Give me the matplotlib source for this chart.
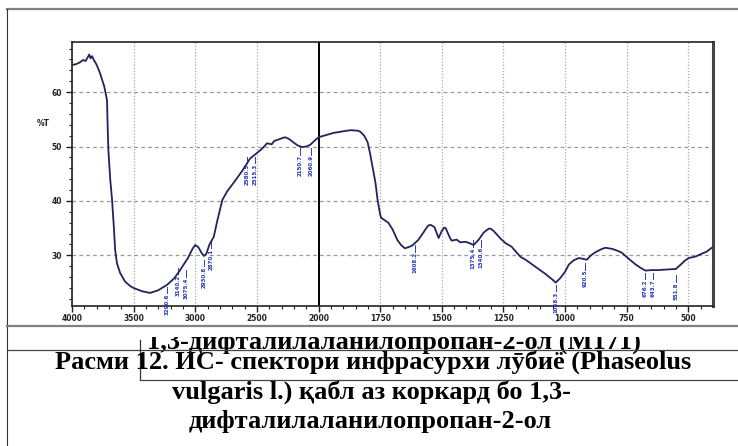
import numpy as np
import matplotlib
matplotlib.use("Agg")
import matplotlib.pyplot as plt
from matplotlib.lines import Line2D
from matplotlib.patches import Rectangle
from matplotlib.ticker import FixedLocator, MultipleLocator
from matplotlib.transforms import blended_transform_factory

# ---------------- data ----------------
wavenumber = [4000, 3970, 3940, 3910, 3890, 3875, 3860, 3850, 3838, 3820, 3800, 3773, 3738,
              3716, 3710, 3705, 3690, 3675, 3660, 3650, 3635, 3610, 3570, 3530, 3500, 3430,
              3366, 3300, 3228, 3170, 3123, 3060, 3020, 3000, 2975, 2950, 2930, 2910, 2885,
              2850, 2820, 2780, 2740, 2690, 2620, 2555, 2500, 2458, 2417, 2380, 2360, 2336,
              2300, 2271, 2240, 2206, 2170, 2133, 2100, 2068, 2035, 2000, 1970, 1939, 1900,
              1870, 1840, 1830, 1815, 1801, 1790, 1780, 1769, 1760, 1750, 1746, 1730, 1717,
              1700, 1680, 1665, 1650, 1636, 1620, 1596, 1570, 1555, 1545, 1530, 1520, 1513,
              1500, 1490, 1484, 1470, 1460, 1440, 1425, 1403, 1385, 1371, 1350, 1330, 1310,
              1302, 1290, 1260, 1240, 1217, 1200, 1180, 1160, 1120, 1080, 1050, 1038, 1020,
              1000, 985, 965, 945, 930, 912, 895, 876, 850, 836, 810, 790, 770, 740, 713,
              690, 673, 650, 620, 590, 551, 531, 515, 499, 470, 446, 425, 405, 400]
transmittance = [65.0, 65.1, 65.4, 65.9, 65.7, 66.3, 66.9, 66.2, 66.6, 65.8, 65.0, 63.5, 61.0,
                 58.5, 53.0, 49.4, 44.0, 40.2, 35.0, 31.0, 28.5, 26.8, 25.2, 24.4, 24.0, 23.4,
                 23.1, 23.6, 24.6, 25.8, 27.3, 29.5, 31.3, 31.9, 31.5, 30.5, 29.9, 30.3, 32.0,
                 33.4, 36.5, 40.2, 41.8, 43.3, 45.5, 47.8, 48.8, 49.6, 50.6, 50.4, 51.0, 51.2,
                 51.5, 51.7, 51.4, 50.8, 50.2, 49.9, 50.0, 50.3, 51.0, 51.7, 52.1, 52.5, 52.8,
                 53.0, 52.9, 52.7, 52.0, 50.8, 48.5, 46.0, 43.3, 40.0, 37.5, 36.9, 36.4, 36.0,
                 34.8, 32.8, 31.9, 31.3, 31.5, 31.8, 32.8, 34.5, 35.5, 35.6, 35.2, 34.0, 33.2,
                 34.5, 35.1, 35.0, 33.5, 32.7, 32.9, 32.4, 32.5, 32.2, 31.9, 32.9, 34.2, 34.9,
                 34.9, 34.5, 33.0, 32.2, 31.6, 30.7, 29.7, 29.2, 27.9, 26.6, 25.5, 25.0, 25.8,
                 27.0, 28.3, 29.1, 29.5, 29.4, 29.2, 30.0, 30.6, 31.2, 31.4, 31.2, 30.9, 30.5,
                 29.3, 28.3, 27.6, 27.2, 27.3, 27.3, 27.4, 27.5, 28.3, 29.0, 29.5, 29.8, 30.3,
                 30.7, 31.4, 31.5]

peak_wn = [3228, 3140, 3075, 2930, 2870, 2580, 2515, 2150, 2060,
           1608, 1375, 1340, 1038, 920, 676, 643, 551]
peak_top = [24.2, 27.7, 27.3, 29.2, 32.5, 48.1, 48.1, 49.7, 49.7,
            31.9, 32.8, 32.8, 24.6, 28.6, 26.8, 26.8, 26.4]
peak_text = ["3290.6", "3140.2", "3075.4", "2930.8", "2870.1", "2580.5", "2515.3", "2150.7",
             "2060.9", "1608.2", "1375.4", "1340.6", "1038.3", "920.5", "676.2", "643.7", "551.8"]

x_ticks = [4000, 3500, 3000, 2500, 2000, 1750, 1500, 1250, 1000, 750, 500]
y_ticks = [30, 40, 50, 60]
y_label = "%T"
y_label_pos = 54.3

caption_top = "1,3-дифталилаланилопропан-2-ол (М171)"
caption_1 = "Расми 12. ИС- спектори инфрасурхи лӯбиё (Phaseolus"
caption_2 = "vulgaris l.) қабл аз коркард бо 1,3-"
caption_3 = "дифталилаланилопропан-2-ол"

# ---------------- figure ----------------
W, H = 738, 446
fig = plt.figure(figsize=(W / 100, H / 100), dpi=100)

def fx(px):
    return px / W

def fy(py):
    return 1 - py / H

ax = fig.add_axes([fx(72), fy(306), fx(713) - fx(72), fy(42) - fy(306)])

def fwd(x):
    x = np.asarray(x, dtype=float)
    return np.where(x >= 2000, x, 2 * x - 2000)

def inv(t):
    t = np.asarray(t, dtype=float)
    return np.where(t >= 2000, t, (t + 2000) / 2)

ax.set_xscale("function", functions=(fwd, inv))
ax.set_xlim(4000, 400)
ax.set_ylim(20.7, 69.2)

ax.plot(wavenumber, transmittance, color="#23235e", lw=1.3, zorder=5)

# grid
for xv in x_ticks:
    if xv == 2000:
        ax.axvline(xv, color="black", lw=1.4, zorder=2)
    else:
        ax.axvline(xv, color="#a8a8a8", lw=0.9, ls=(0, (1, 1.5)), zorder=1)
for yv in y_ticks:
    ax.axhline(yv, color="#9a9a9a", lw=0.9, ls=(0, (3, 2.5)), zorder=1)

ax.xaxis.set_major_locator(FixedLocator(x_ticks))
ax.xaxis.set_minor_locator(FixedLocator(list(range(4000, 2000, -100)) + list(range(2000, 400, -50))))
ax.set_xticklabels([str(v) for v in x_ticks])
ax.yaxis.set_major_locator(FixedLocator(y_ticks))
ax.yaxis.set_minor_locator(MultipleLocator(2))
ax.set_yticklabels([str(v) for v in y_ticks])

ax.tick_params(axis="both", which="major", direction="out", length=4, width=1.0,
               labelsize=5.5, pad=1.5, colors="#222222")
ax.tick_params(axis="y", which="major", pad=3)
ax.tick_params(axis="both", which="minor", direction="out", length=2.5, width=0.8, colors="#222222")
for lab in ax.get_xticklabels() + ax.get_yticklabels():
    lab.set_fontweight("bold")

ax.text(-0.035, y_label_pos, y_label, transform=blended_transform_factory(ax.transAxes, ax.transData),
        fontsize=5.5, fontweight="bold", ha="right", va="center", color="#222222")

for sp in ["left", "bottom", "top"]:
    ax.spines[sp].set_linewidth(1.2)
    ax.spines[sp].set_color("#222222")
ax.spines["right"].set_linewidth(2.2)
ax.spines["right"].set_color("#444444")

# peak labels
for w, top, s in zip(peak_wn, peak_top, peak_text):
    ax.plot([w, w], [top, top - 1.2], color="#3040b0", lw=0.7, zorder=4)
    ax.text(w, top - 1.3, s, rotation=90, ha="center", va="top", fontsize=4,
            color="#2838b8", fontweight="bold", zorder=4)

# ---------------- page decoration ----------------
def hline(py, x0, x1, color, lw, z=2):
    fig.add_artist(Line2D([fx(x0), fx(x1)], [fy(py), fy(py)], color=color, lw=lw, zorder=z))

def vline(px, y0, y1, color, lw, z=2):
    fig.add_artist(Line2D([fx(px), fx(px)], [fy(y0), fy(y1)], color=color, lw=lw, zorder=z))

hline(9, 7, 738, "#808080", 1.6)
vline(7, 9, 446, "#333333", 0.8)

serif = ["Liberation Serif", "DejaVu Serif"]
fs = 19
fig.text(fx(394), fy(349), caption_top, family=serif, fontweight="bold", fontsize=fs,
         ha="center", va="baseline", color="black", zorder=1)
fig.add_artist(Rectangle((fx(60), fy(337)), fx(720) - fx(60), fy(327) - fy(337),
                         facecolor="white", edgecolor="none", transform=fig.transFigure, zorder=3))
hline(326, 7, 738, "#808080", 1.6, z=4)
hline(350, 7, 738, "#444444", 0.9, z=4)
vline(140, 340, 380, "#333333", 0.9, z=4)
hline(380, 140, 738, "#444444", 0.9, z=4)

fig.text(fx(55), fy(369), caption_1, family=serif, fontweight="bold", fontsize=fs,
         ha="left", va="baseline", color="black", zorder=5)
fig.text(fx(372), fy(399), caption_2, family=serif, fontweight="bold", fontsize=fs,
         ha="center", va="baseline", color="black", zorder=5)
fig.text(fx(370), fy(428), caption_3, family=serif, fontweight="bold", fontsize=fs,
         ha="center", va="baseline", color="black", zorder=5)

fig.savefig("out.png", dpi=100)
